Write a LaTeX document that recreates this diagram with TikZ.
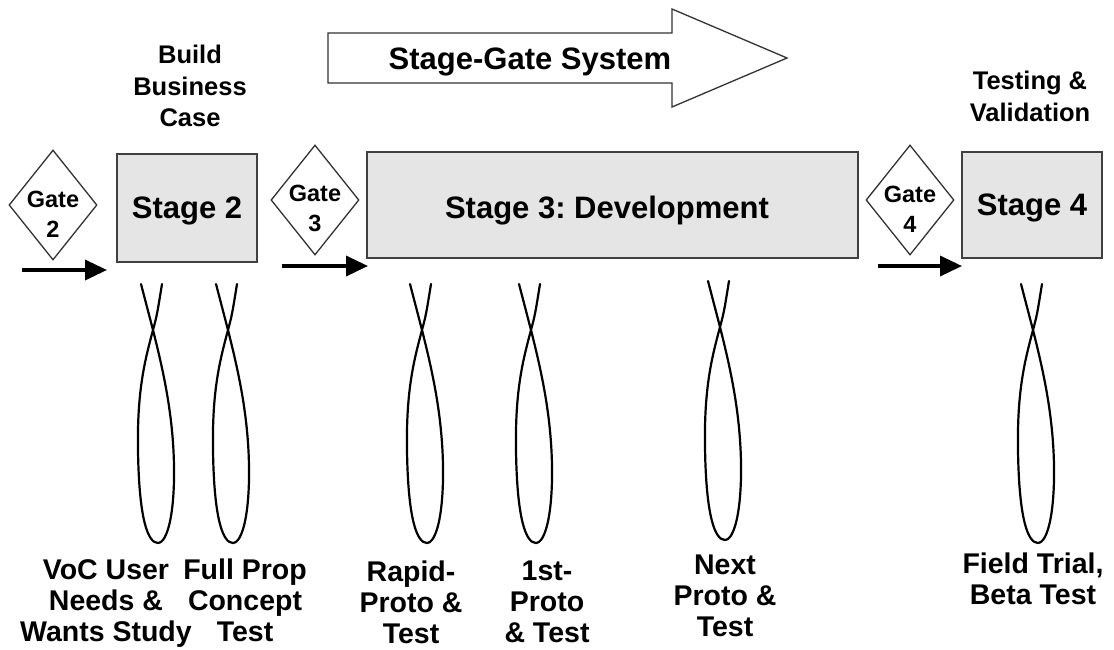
\documentclass[tikz,border=0pt]{standalone}
\usepackage{fontspec}
\setmainfont{Liberation Sans}
\usetikzlibrary{shapes.geometric,arrows.meta}
\begin{document}
\frenchspacing
\begin{tikzpicture}[x=1pt,y=-1pt,
  stagebox/.style={rectangle,draw=black!75,line width=1.4pt,fill=black!10,inner sep=0pt,text depth=0pt,font=\fontsize{31}{36}\selectfont\bfseries},
  gatebox/.style={diamond,draw=black!80,line width=1.3pt,fill=white,minimum width=88pt,minimum height=110pt,inner sep=0pt},
  gatetext/.style={font=\fontsize{23.5}{30}\selectfont\bfseries,align=center,inner sep=0pt,anchor=north},
  stagetext/.style={font=\fontsize{31}{36}\selectfont\bfseries,inner sep=0pt,text depth=0pt},
  toptext/.style={font=\fontsize{25.5}{31.5}\selectfont\bfseries,align=center,inner sep=0pt,anchor=north},
  bottext/.style={font=\fontsize{28.5}{31}\selectfont\bfseries,align=center,inner sep=0pt,anchor=north},
  flow/.style={line width=3.5pt,-{Triangle[length=22pt,width=20pt]}},
  twist/.pic={\draw[line width=2.2pt,line cap=round]
    (-12,-46) .. controls (-6,-23) .. (0,0)
    .. controls (10,40) and (22,90) .. (21,150)
    .. controls (20,195) and (12,213) .. (5,213)
    .. controls (-5,213) and (-14,190) .. (-15,120)
    .. controls (-16,60) and (-8,30) .. (0,0)
    .. controls (4,-15) .. (9,-46);}
]
\useasboundingbox (0,0) rectangle (1114,649);

% big arrow
\draw[line width=1.3pt,draw=black!80,fill=white] (328,33) -- (672,33) -- (672,9) -- (787,58) -- (672,107) -- (672,83) -- (328,83) -- cycle;
\node[stagetext] (sgs) at (530,59) {Stage-Gate System};

% top labels
\node[toptext] (bbc) at (190,45) {Build\\Business\\Case};
\node[toptext] (tv) at (1030,71) {Testing \&\\Validation};

% stages
\node[stagebox,minimum width=140pt,minimum height=108pt] (s2) at (187,208) {Stage 2};
\node[stagebox,minimum width=491pt,minimum height=106pt] (s3) at (612.5,205) {};
\node[stagetext] (s3t) at (607,207) {Stage 3: Development};
\node[stagebox,minimum width=140pt,minimum height=106pt] (s4) at (1032,205) {Stage 4};

% gates
\node[gatebox] (g2) at (53,205) {};
\node[gatetext] (g2t) at (53,191) {Gate\\2};
\node[gatebox] (g3) at (315,200) {};
\node[gatetext] (g3t) at (315,185) {Gate\\3};
\node[gatebox] (g4) at (910,200) {};
\node[gatetext] (g4t) at (910,186) {Gate\\4};

% flow arrows
\coordinate (a2s) at (22,270);  \coordinate (a2e) at (107,270);
\coordinate (a3s) at (282,266); \coordinate (a3e) at (368,266);
\coordinate (a4s) at (878,266); \coordinate (a4e) at (962,266);
\draw[flow] (a2s) -- (a2e);
\draw[flow] (a3s) -- (a3e);
\draw[flow] (a4s) -- (a4e);

% loops
\coordinate (l1) at (153,330);
\coordinate (l2) at (228,330);
\coordinate (l3) at (422,330);
\coordinate (l4) at (531,330);
\coordinate (l5) at (720,327);
\coordinate (l6) at (1033,330);
\pic at (l1) {twist};
\pic at (l2) {twist};
\pic at (l3) {twist};
\pic at (l4) {twist};
\pic at (l5) {twist};
\pic at (l6) {twist};

% bottom labels
\node[bottext] (t1) at (106,559) {VoC User\\Needs \&\\Wants Study};
\node[bottext] (t2) at (245,559) {Full Prop\\Concept\\Test};
\node[bottext] (t3) at (411,561) {Rapid-\\Proto \&\\Test};
\node[bottext] (t4) at (547,561) {1st-\\Proto\\\& Test};
\node[bottext] (t5) at (725,555) {Next\\Proto \&\\Test};
\node[bottext] (t6) at (1033,553) {Field Trial,\\Beta Test};
\end{tikzpicture}
\end{document}
